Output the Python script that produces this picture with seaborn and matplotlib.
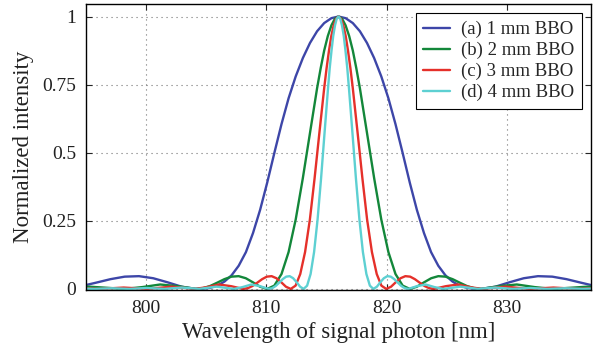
import pandas as pd
import numpy as np

import seaborn as sns
import matplotlib.pyplot as plt

# wavelength samples [nm] and normalized intensity
blue_wl = [794.67, 795.85, 797.04, 798.22, 799.41, 800.59, 801.78, 802.96, 804.15, 804.74,
           805.33, 805.93, 806.52, 807.11, 807.70, 808.30, 808.89, 809.48, 810.07, 810.67,
           811.26, 811.85, 812.44, 813.04, 813.63, 814.22, 814.81, 815.41, 816.00, 816.59,
           817.19, 817.78, 818.37, 818.96, 819.56, 820.15, 820.74, 821.33, 821.93, 822.52,
           823.11, 823.70, 824.30, 824.89, 825.48, 826.07, 826.67, 827.26, 827.85, 829.04,
           830.22, 831.41, 832.59, 833.78, 834.96, 836.15, 837.33]
blue_int = [0.0108, 0.0230, 0.0358, 0.0450, 0.0468, 0.0392, 0.0243, 0.0080, 0.0, 0.0010,
            0.0040, 0.0120, 0.0270, 0.0500, 0.0850, 0.1350, 0.2050, 0.2900, 0.3900, 0.5000,
            0.6050, 0.7000, 0.7800, 0.8480, 0.9030, 0.9460, 0.9760, 0.9940, 1.0, 0.9940,
            0.9760, 0.9460, 0.9030, 0.8480, 0.7800, 0.7000, 0.6050, 0.5000, 0.3900, 0.2900,
            0.2050, 0.1350, 0.0850, 0.0500, 0.0270, 0.0120, 0.0040, 0.0010, 0.0, 0.0080,
            0.0243, 0.0392, 0.0468, 0.0450, 0.0358, 0.0230, 0.0108]

green_wl = [792.28, 795.24, 798.21, 799.69, 801.17, 802.66, 804.14, 804.73, 805.33, 805.92,
            806.51, 807.10, 807.70, 808.29, 808.88, 809.48, 810.07, 810.66, 811.26, 811.85,
            812.44, 813.03, 813.63, 814.22, 814.52, 814.81, 815.11, 815.41, 815.70, 816.00,
            816.30, 816.59, 816.89, 817.19, 817.48, 817.78, 818.37, 818.97, 819.56, 820.15,
            820.74, 821.34, 821.93, 822.52, 823.12, 823.71, 824.30, 824.90, 825.49, 826.08,
            826.67, 827.27, 827.86, 829.34, 830.83, 832.31, 833.79, 836.76, 839.72]
green_int = [0.0, 0.0083, 0.0, 0.0067, 0.0162, 0.0100, 0.0, 0.0027, 0.0108, 0.0230,
             0.0358, 0.0450, 0.0468, 0.0392, 0.0243, 0.0080, 0.0, 0.0119, 0.0547, 0.1353,
             0.2546, 0.4053, 0.5728, 0.7368, 0.8106, 0.8751, 0.9281, 0.9675, 0.9918, 1.0,
             0.9918, 0.9675, 0.9281, 0.8751, 0.8106, 0.7368, 0.5728, 0.4053, 0.2546, 0.1353,
             0.0547, 0.0119, 0.0, 0.0080, 0.0243, 0.0392, 0.0468, 0.0450, 0.0358, 0.0230,
             0.0108, 0.0027, 0.0, 0.0100, 0.0162, 0.0067, 0.0, 0.0083, 0.0]

red_wl = [794.16, 796.15, 798.13, 800.12, 802.10, 804.09, 805.08, 806.07, 807.07, 808.06,
          808.46, 808.85, 809.25, 809.65, 810.04, 810.44, 810.84, 811.24, 811.63, 812.03,
          812.43, 812.82, 813.22, 813.62, 814.01, 814.41, 814.81, 815.01, 815.21, 815.40,
          815.60, 815.80, 816.00, 816.20, 816.40, 816.60, 816.79, 816.99, 817.19, 817.59,
          817.99, 818.38, 818.78, 819.18, 819.57, 819.97, 820.37, 820.76, 821.16, 821.56,
          821.96, 822.35, 822.75, 823.15, 823.54, 823.94, 824.93, 825.93, 826.92, 827.91,
          829.90, 831.88, 833.87, 835.85, 837.84]
red_int = [0.0033, 0.0, 0.0050, 0.0, 0.0083, 0.0, 0.0067, 0.0162, 0.0100, 0.0,
           0.0027, 0.0108, 0.0230, 0.0358, 0.0450, 0.0468, 0.0392, 0.0243, 0.0080, 0.0,
           0.0119, 0.0547, 0.1353, 0.2546, 0.4053, 0.5728, 0.7368, 0.8106, 0.8751, 0.9281,
           0.9675, 0.9918, 1.0, 0.9918, 0.9675, 0.9281, 0.8751, 0.8106, 0.7368, 0.5728,
           0.4053, 0.2546, 0.1353, 0.0547, 0.0119, 0.0, 0.0080, 0.0243, 0.0392, 0.0468,
           0.0450, 0.0358, 0.0230, 0.0108, 0.0027, 0.0, 0.0100, 0.0162, 0.0067, 0.0,
           0.0083, 0.0, 0.0050, 0.0, 0.0033]

cyan_wl = [794.25, 795.70, 797.15, 798.60, 800.05, 801.50, 802.95, 804.40, 805.85, 807.30,
           808.02, 808.75, 809.47, 810.20, 810.49, 810.78, 811.07, 811.36, 811.65, 811.94,
           812.23, 812.52, 812.81, 813.10, 813.39, 813.68, 813.97, 814.26, 814.55, 814.84,
           815.13, 815.27, 815.42, 815.56, 815.71, 815.85, 816.00, 816.15, 816.29, 816.44,
           816.58, 816.73, 816.87, 817.16, 817.45, 817.74, 818.03, 818.32, 818.61, 818.90,
           819.19, 819.48, 819.77, 820.06, 820.35, 820.64, 820.93, 821.22, 821.51, 821.80,
           822.53, 823.25, 823.98, 824.70, 826.15, 827.60, 829.05, 830.50, 831.95, 833.40,
           834.85, 836.30, 837.75]
cyan_int = [0.0018, 0.0, 0.0024, 0.0, 0.0033, 0.0, 0.0050, 0.0, 0.0083, 0.0,
            0.0067, 0.0162, 0.0100, 0.0, 0.0027, 0.0108, 0.0230, 0.0358, 0.0450, 0.0468,
            0.0392, 0.0243, 0.0080, 0.0, 0.0119, 0.0547, 0.1353, 0.2546, 0.4053, 0.5728,
            0.7368, 0.8106, 0.8751, 0.9281, 0.9675, 0.9918, 1.0, 0.9918, 0.9675, 0.9281,
            0.8751, 0.8106, 0.7368, 0.5728, 0.4053, 0.2546, 0.1353, 0.0547, 0.0119, 0.0,
            0.0080, 0.0243, 0.0392, 0.0468, 0.0450, 0.0358, 0.0230, 0.0108, 0.0027, 0.0,
            0.0100, 0.0162, 0.0067, 0.0, 0.0083, 0.0, 0.0050, 0.0, 0.0033, 0.0,
            0.0024, 0.0, 0.0018]

labels = ['(a) 1 mm BBO', '(b) 2 mm BBO', '(c) 3 mm BBO', '(d) 4 mm BBO']
colors = ['#3d46a8', '#13873a', '#e5302a', '#5dd0d2']

xticks = [800, 810, 820, 830]
yticks = [0, 0.25, 0.5, 0.75, 1]
ytick_labels = ['0', '0.25', '0.5', '0.75', '1']

# long format dataframe for seaborn
frames = []
for lab, wl, inten in zip(labels, [blue_wl, green_wl, red_wl, cyan_wl],
                          [blue_int, green_int, red_int, cyan_int]):
    frames.append(pd.DataFrame({'wavelength': wl, 'intensity': inten, 'crystal': lab}))
df = pd.concat(frames, ignore_index=True)

sns.set_theme(style='ticks')
plt.rcParams['font.family'] = ['Liberation Serif', 'DejaVu Serif']

fig = plt.figure(figsize=(6.03, 3.51), dpi=100)
ax = fig.add_axes([0.1426, 0.1738, 0.8375, 0.8148])

sns.lineplot(data=df, x='wavelength', y='intensity', hue='crystal', hue_order=labels,
             palette=colors, linewidth=1.7, estimator=None, sort=False, ax=ax)

ax.set_xlim(795, 837)
ax.set_ylim(-0.004, 1.046)
ax.set_xticks(xticks)
ax.set_yticks(yticks)
ax.set_yticklabels(ytick_labels)
ax.grid(True, linestyle=(0, (1, 3.5)), color='0.45', linewidth=0.8)
ax.tick_params(direction='in', top=True, right=True, length=4, width=0.8,
               labelsize=14, labelcolor='#222222', pad=7)
for sp in ax.spines.values():
    sp.set_color('black')
    sp.set_linewidth(1.0)

ax.set_xlabel('Wavelength of signal photon [nm]', fontsize=16.5, color='#222222', labelpad=4)
ax.set_ylabel('Normalized intensity', fontsize=16.5, color='#222222', labelpad=6)

handles, labs = ax.get_legend_handles_labels()
leg = ax.legend(handles, labs, loc='upper right', fontsize=13.5, frameon=True, fancybox=False,
                edgecolor='black', framealpha=1, handlelength=1.4, handletextpad=0.6,
                borderaxespad=0.5, labelspacing=0.2, borderpad=0.4)
leg.get_frame().set_linewidth(0.8)
for h in leg.get_lines():
    h.set_linewidth(1.7)

plt.savefig('out.png', dpi=100)
